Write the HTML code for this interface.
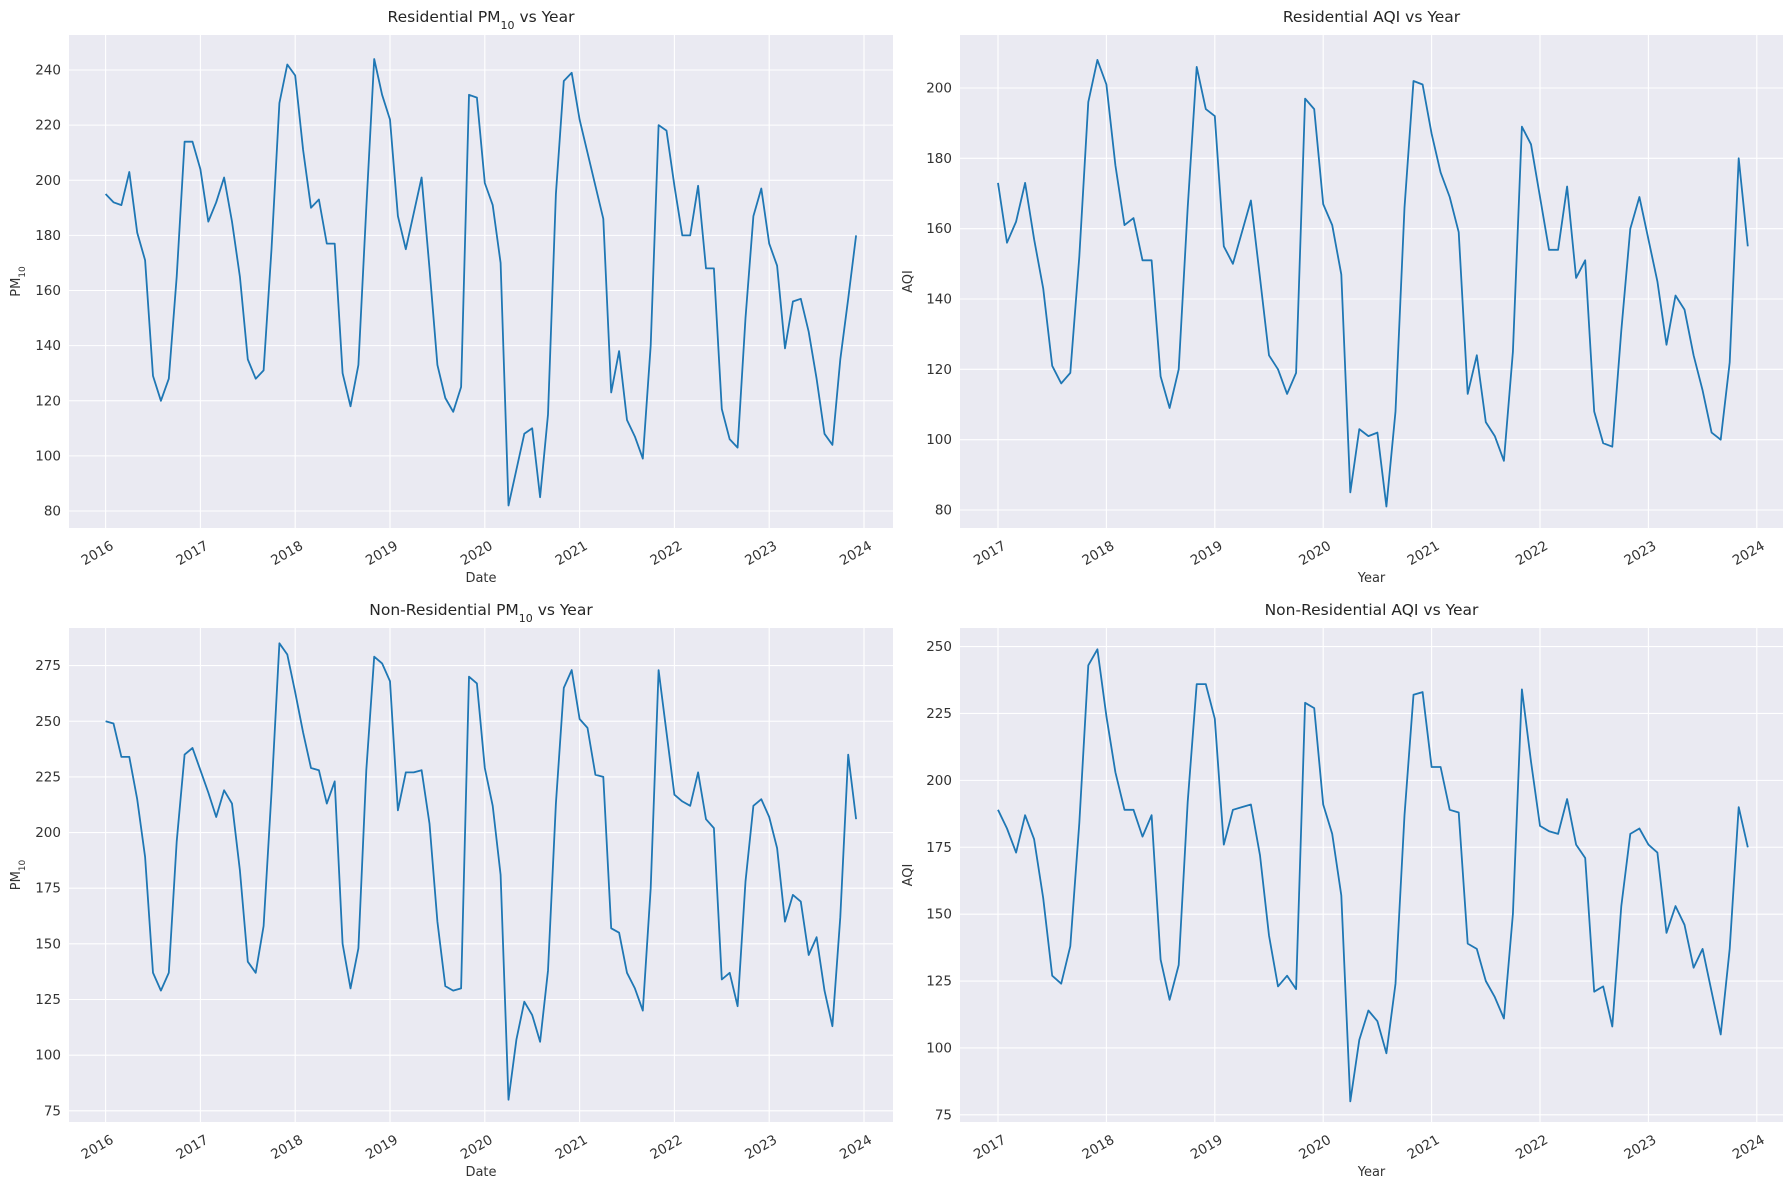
<!DOCTYPE html>
<html><head><meta charset="utf-8"><style>
body{margin:0;background:#fff;}
svg{display:block;font-family:"DejaVu Sans","Liberation Sans",sans-serif;}
</style></head><body>
<svg id="s" width="1790" height="1190" xmlns="http://www.w3.org/2000/svg"></svg>
<script>
const panels=[
{x0:69,x1:893,y0:35,y1:528,title:'Residential PM<tspan baseline-shift="sub" font-size="11">10</tspan> vs Year',xl:'Date',yl:'PM<tspan baseline-shift="sub" font-size="9">10</tspan>',
 startYear:2016,y2016:105.6,yearPx:94.8,firstTick:2016,ticks:[80,100,120,140,160,180,200,220,240],ty:[511,70],tv:[80,240],
 d:[195,192,191,203,181,171,129,120,128,165,214,214,204,185,192,201,185,165,135,128,131,175,228,242,238,211,190,193,177,177,130,118,133,190,244,231,222,187,175,188,201,168,133,121,116,125,231,230,199,191,170,82,95,108,110,85,115,195,236,239,222,210,198,186,123,138,113,107,99,140,220,218,198,180,180,198,168,168,117,106,103,150,187,197,177,169,139,156,157,145,128,108,104,135,157,180]},
{x0:960,x1:1783,y0:35,y1:528,title:'Residential AQI vs Year',xl:'Year',yl:'AQI',
 startYear:2017,y2016:998,yearPx:108.4,firstTick:2017,ticks:[80,100,120,140,160,180,200],ty:[510,88],tv:[80,200],
 d:[173,156,162,173,157,143,121,116,119,152,196,208,201,178,161,163,151,151,118,109,120,166,206,194,192,155,150,159,168,146,124,120,113,119,197,194,167,161,147,85,103,101,102,81,108,166,202,201,187,176,169,159,113,124,105,101,94,125,189,184,169,154,154,172,146,151,108,99,98,131,160,169,157,145,127,141,137,124,114,102,100,122,180,155]},
{x0:69,x1:893,y0:628,y1:1122,title:'Non-Residential PM<tspan baseline-shift="sub" font-size="11">10</tspan> vs Year',xl:'Date',yl:'PM<tspan baseline-shift="sub" font-size="9">10</tspan>',
 startYear:2016,y2016:105.6,yearPx:94.8,firstTick:2016,ticks:[75,100,125,150,175,200,225,250,275],ty:[1110.8,665.6],tv:[75,275],
 d:[250,249,234,234,215,189,137,129,137,196,235,238,228,218,207,219,213,183,142,137,158,218,285,280,263,245,229,228,213,223,150,130,148,228,279,276,268,210,227,227,228,204,160,131,129,130,270,267,229,212,181,80,107,124,118,106,138,213,265,273,251,247,226,225,157,155,137,130,120,175,273,245,217,214,212,227,206,202,134,137,122,178,212,215,207,193,160,172,169,145,153,129,113,162,235,206]},
{x0:960,x1:1783,y0:628,y1:1122,title:'Non-Residential AQI vs Year',xl:'Year',yl:'AQI',
 startYear:2017,y2016:998,yearPx:108.4,firstTick:2017,ticks:[75,100,125,150,175,200,225,250],ty:[1114.8,646.6],tv:[75,250],
 d:[189,182,173,187,178,156,127,124,138,184,243,249,224,203,189,189,179,187,133,118,131,192,236,236,223,176,189,190,191,172,142,123,127,122,229,227,191,180,157,80,103,114,110,98,124,187,232,233,205,205,189,188,139,137,125,119,111,150,234,207,183,181,180,193,176,171,121,123,108,153,180,182,176,173,143,153,146,130,137,121,105,137,190,175]}
];
let h='';
for(const p of panels){
 const Y=v=>p.ty[0]+(v-p.tv[0])*(p.ty[1]-p.ty[0])/(p.tv[1]-p.tv[0]);
 const X=m=>p.y2016+m*p.yearPx/12;
 h+=`<rect x="${p.x0}" y="${p.y0}" width="${p.x1-p.x0}" height="${p.y1-p.y0}" fill="#EAEAF2"/>`;
 for(const t of p.ticks){const y=Y(t);h+=`<line x1="${p.x0}" x2="${p.x1}" y1="${y}" y2="${y}" stroke="#fff" stroke-width="1.1"/><text x="${p.x0-8}" y="${y+4.5}" font-size="13.5" fill="#333" text-anchor="end">${t}</text>`;}
 for(let yr=p.firstTick;yr<=2024;yr++){const x=p.y2016+(yr-p.firstTick)*p.yearPx;h+=`<line x1="${x}" x2="${x}" y1="${p.y0}" y2="${p.y1}" stroke="#fff" stroke-width="1.1"/><text transform="translate(${x+4},${p.y1+12}) rotate(-30)" font-size="13.5" fill="#333" text-anchor="end" dominant-baseline="hanging">${yr}</text>`;}
 h+=`<polyline fill="none" stroke="#1f77b4" stroke-width="1.8" stroke-linejoin="round" points="${p.d.map((v,i)=>X(i).toFixed(1)+','+Y(v).toFixed(1)).join(' ')}"/>`;
 const cx=(p.x0+p.x1)/2;
 h+=`<text x="${cx}" y="${p.y0-13}" font-size="15.5" fill="#262626" text-anchor="middle">${p.title}</text>`;
 h+=`<text x="${cx}" y="${p.y1+54}" font-size="13" fill="#333" text-anchor="middle">${p.xl}</text>`;
 const ly=(p.y0+p.y1)/2;const lx=p.x0===69?20:912;
 h+=`<text transform="translate(${lx},${ly}) rotate(-90)" font-size="13" fill="#333" text-anchor="middle">${p.yl}</text>`;
}
document.getElementById('s').innerHTML=h;
</script>
</body></html>
